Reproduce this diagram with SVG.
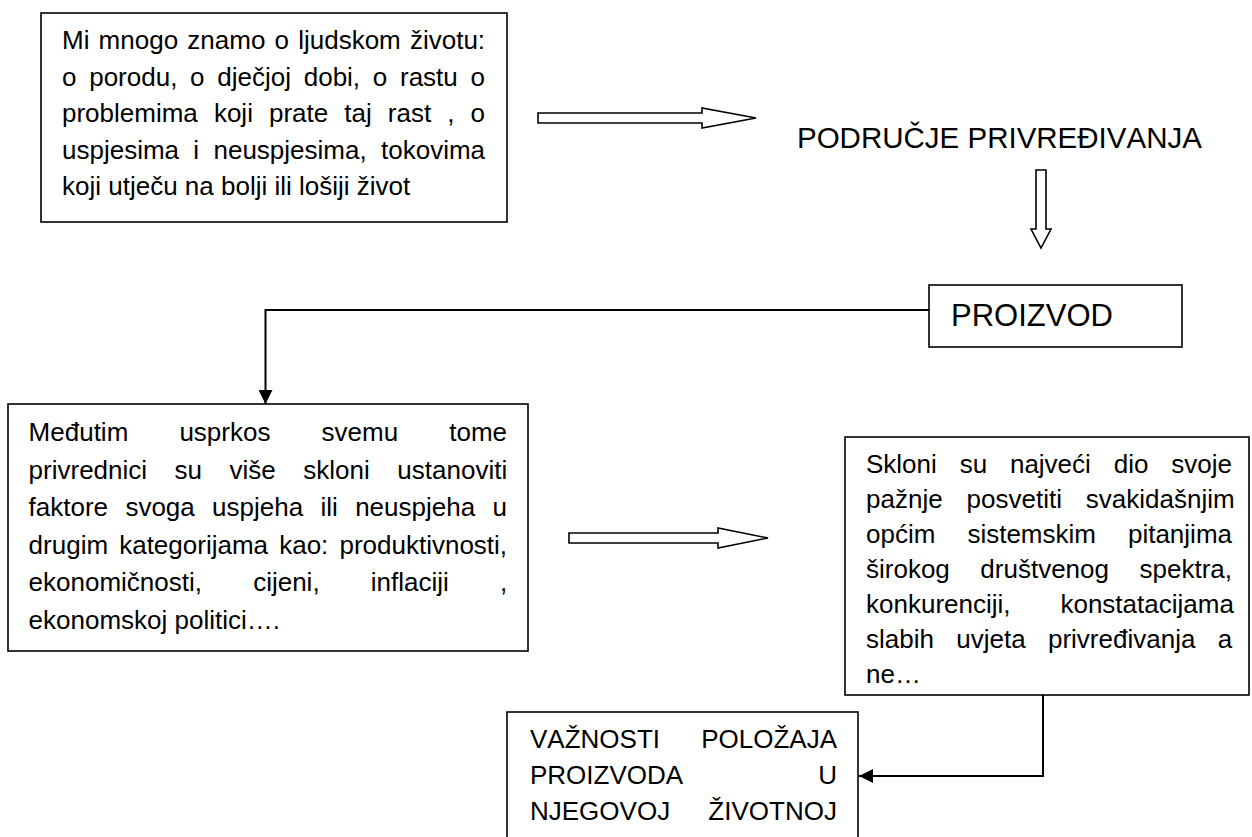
<svg xmlns="http://www.w3.org/2000/svg" width="1252" height="837" viewBox="0 0 1252 837">
  <style>
    .box { fill: #ffffff; stroke: #000000; stroke-width: 1.6; }
    .t { font-family: "Liberation Sans", Arial, sans-serif; font-size: 26px; fill: #000000; font-kerning: none; }
    .big { font-family: "Liberation Sans", Arial, sans-serif; fill: #000000; font-kerning: none; }
    .hollow { fill: #ffffff; stroke: #000000; stroke-width: 1.6; stroke-linejoin: miter; }
    .conn { fill: none; stroke: #000000; stroke-width: 2; }
  </style>
  <defs>
    <marker id="head" markerUnits="userSpaceOnUse" markerWidth="16" markerHeight="14" refX="14" refY="7" orient="auto">
      <path d="M0,0 L14,7 L0,14 z" fill="#000000"/>
    </marker>
  </defs>
  <rect x="0" y="0" width="1252" height="837" fill="#ffffff"/>

  <g id="connectors">
    <polygon class="hollow" points="538,113 702,113 702,108 756,118 702,128 702,123 538,123"/>
    <polygon class="hollow" points="1036,170 1046,170 1046,229 1051,229 1041,248 1031,229 1036,229"/>
    <polyline class="conn" points="929,310 265.5,310 265.5,404" marker-end="url(#head)"/>
    <polygon class="hollow" points="569,533 718,533 718,528 768,538 718,548 718,543 569,543"/>
    <polyline class="conn" points="1043,695 1043,776 859,776" marker-end="url(#head)"/>
  </g>

  <g id="node-zivot">
    <rect class="box" x="41" y="13" width="466" height="209"/>
    <text class="t" x="62" y="49" word-spacing="1.96">Mi mnogo znamo o ljudskom životu:</text>
    <text class="t" x="62" y="85.5" word-spacing="5.5">o porodu, o dječjoj dobi, o rastu o</text>
    <text class="t" x="62" y="122" word-spacing="8.85">problemima koji prate taj rast , o</text>
    <text class="t" x="62" y="158.5" word-spacing="7.1">uspjesima i neuspjesima, tokovima</text>
    <text class="t" x="62" y="195">koji utječu na bolji ili lošiji život</text>
  </g>

  <g id="node-podrucje">
    <text class="big" x="797" y="148" font-size="29.5">PODRUČJE PRIVREĐIVANJA</text>
  </g>

  <g id="node-proizvod">
    <rect class="box" x="929" y="285" width="253" height="62"/>
    <text class="big" x="951" y="326" font-size="31">PROIZVOD</text>
  </g>

  <g id="node-medjutim">
    <rect class="box" x="8" y="404" width="520" height="247"/>
    <text class="t" x="28.6" y="441" word-spacing="43.9">Međutim usprkos svemu tome</text>
    <text class="t" x="28.6" y="478.5" word-spacing="20.3">privrednici su više skloni ustanoviti</text>
    <text class="t" x="28.6" y="516" word-spacing="10.1">faktore svoga uspjeha ili neuspjeha u</text>
    <text class="t" x="28.6" y="553.5" word-spacing="3.9">drugim kategorijama kao: produktivnosti,</text>
    <text class="t" x="28.6" y="591" word-spacing="43.9">ekonomičnosti, cijeni, inflaciji ,</text>
    <text class="t" x="28.6" y="628.5">ekonomskoj politici….</text>
  </g>

  <g id="node-skloni">
    <rect class="box" x="845" y="437" width="404" height="258"/>
    <text class="t" x="866" y="473" word-spacing="15.6">Skloni su najveći dio svoje</text>
    <text class="t" x="866" y="508" word-spacing="16.7">pažnje posvetiti svakidašnjim</text>
    <text class="t" x="866" y="543" word-spacing="24.8">općim sistemskim pitanjima</text>
    <text class="t" x="866" y="578" word-spacing="23.3">širokog društvenog spektra,</text>
    <text class="t" x="866" y="613" word-spacing="42.7">konkurenciji, konstatacijama</text>
    <text class="t" x="866" y="648" word-spacing="15.1">slabih uvjeta privređivanja a</text>
    <text class="t" x="866" y="683">ne…</text>
  </g>

  <g id="node-vaznosti">
    <rect class="box" x="507" y="712" width="351" height="140"/>
    <text class="t" x="530" y="748" word-spacing="34">VAŽNOSTI POLOŽAJA</text>
    <text class="t" x="530" y="784" word-spacing="128">PROIZVODA U</text>
    <text class="t" x="530" y="820" word-spacing="31">NJEGOVOJ ŽIVOTNOJ</text>
  </g>
</svg>
